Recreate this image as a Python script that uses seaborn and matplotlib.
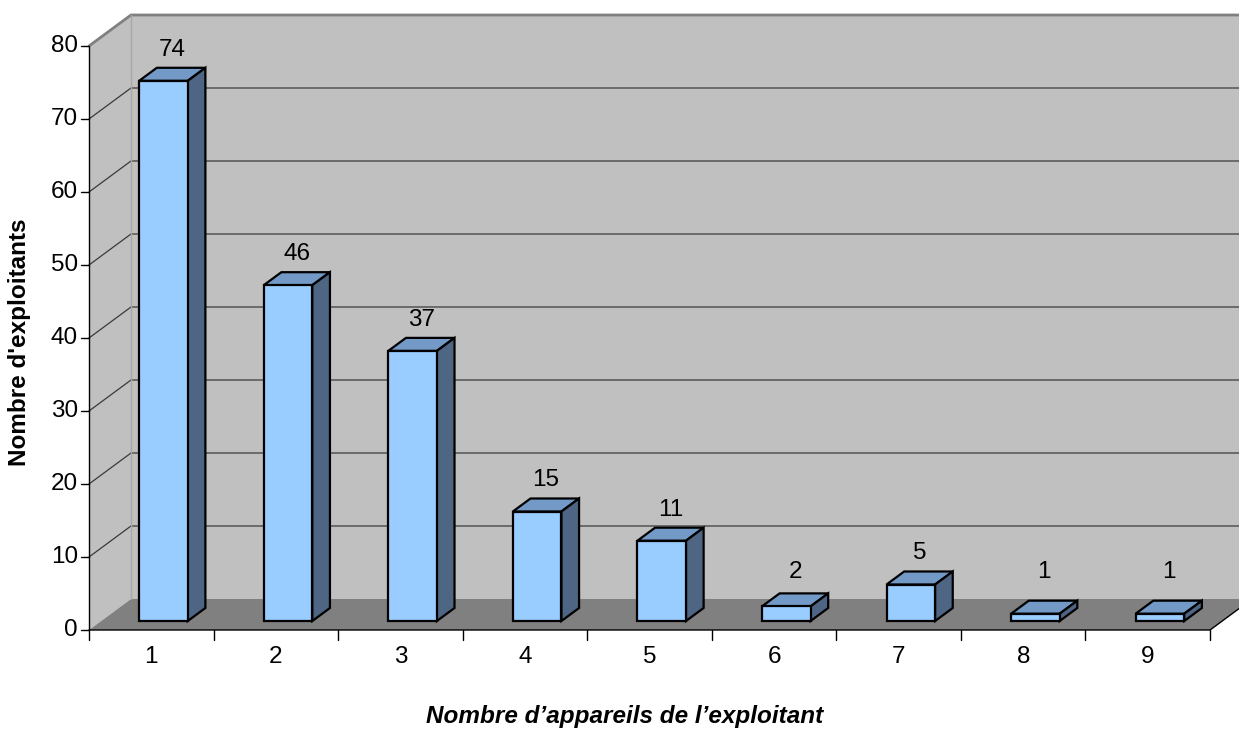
import matplotlib
matplotlib.use("Agg")
import matplotlib.pyplot as plt
import seaborn as sns
import pandas as pd
from matplotlib.patches import Polygon

# Data
categories = ["1", "2", "3", "4", "5", "6", "7", "8", "9"]
counts = [74, 46, 37, 15, 11, 2, 5, 1, 1]
y_ticks = [0, 10, 20, 30, 40, 50, 60, 70, 80]
x_title = "Nombre d\u2019appareils de l\u2019exploitant"
y_title = "Nombre d'exploitants"

sns.set_theme(style="white")
plt.rcParams["font.family"] = ["Liberation Sans", "DejaVu Sans"]
plt.rcParams["text.color"] = "black"

FS = 17.5

W, H = 1239, 729
fig = plt.figure(figsize=(W / 100, H / 100), dpi=100)
ax = fig.add_axes([0, 0, 1, 1])

# Oblique projection: full depth of the box, expressed in data units
PX_X = 124.56          # pixels per category
PX_Y = 7.3             # pixels per unit of count
DX = 42 / PX_X
DY = 31 / PX_Y
D0, D1 = 0.29, 0.71    # bars occupy this slice of the depth
YMAX = 80
n = len(categories)
x_lo, x_hi = -0.5, n - 0.5

wall = "#C0C0C0"
floor = "#808080"
edge = "#808080"

# Walls and floor
ax.add_patch(Polygon([(x_lo, 0), (x_lo + DX, DY), (x_lo + DX, YMAX + DY), (x_lo, YMAX)],
                     closed=True, facecolor=wall, edgecolor="none", zorder=0))
ax.add_patch(Polygon([(x_lo + DX, DY), (x_hi + DX, DY), (x_hi + DX, YMAX + DY), (x_lo + DX, YMAX + DY)],
                     closed=True, facecolor=wall, edgecolor="none", zorder=0))
ax.add_patch(Polygon([(x_lo, 0), (x_hi, 0), (x_hi + DX, DY), (x_lo + DX, DY)],
                     closed=True, facecolor=floor, edgecolor="none", zorder=1))

# Gridlines on the side and back walls
for t in y_ticks[1:-1]:
    ax.plot([x_lo, x_lo + DX, x_hi + DX], [t, t + DY, t + DY], color="#3a3a3a", lw=0.9, zorder=1)
# Wall edges
ax.plot([x_lo, x_lo + DX, x_hi + DX], [YMAX, YMAX + DY, YMAX + DY], color=edge, lw=2, zorder=1)
ax.plot([x_lo + DX, x_lo + DX], [DY, YMAX + DY], color="#a8a8a8", lw=1, zorder=1)

# Axes lines
ax.plot([x_lo, x_lo], [0, YMAX], color="black", lw=1, zorder=2)
ax.plot([x_lo, x_hi, x_hi + DX], [0, 0, DY], color="black", lw=1, zorder=2)

# Front faces of the bars
df = pd.DataFrame({"cat": categories, "n": counts})
sns.barplot(data=df, x="cat", y="n", color="#99CCFF", saturation=1, width=0.39,
            edgecolor="black", linewidth=1.6, ax=ax, errorbar=None)

top_c = "#7399C6"
side_c = "#4F6584"
dd = D1 - D0
for p, v in zip(ax.patches[-n:], counts):
    p.set_x(p.get_x() + D0 * DX)
    p.set_y(D0 * DY)
    p.set_zorder(6)
    x0 = p.get_x()
    x1 = x0 + p.get_width()
    yb = p.get_y()
    yt = yb + p.get_height()
    ax.add_patch(Polygon([(x0, yt), (x1, yt), (x1 + dd * DX, yt + dd * DY), (x0 + dd * DX, yt + dd * DY)],
                         closed=True, facecolor=top_c, edgecolor="black", lw=1.6, zorder=5))
    ax.add_patch(Polygon([(x1, yb), (x1 + dd * DX, yb + dd * DY), (x1 + dd * DX, yt + dd * DY), (x1, yt)],
                         closed=True, facecolor=side_c, edgecolor="black", lw=1.6, zorder=5))

# Value labels
for i, v in enumerate(counts):
    xc = i + 0.5 * DX
    ax.text(xc, max(v + 5.5, 8.0), str(v), ha="center", va="center", fontsize=FS, color="black", zorder=10)

# Y ticks on the front-left edge
tick_len = 8 / PX_X
for t in y_ticks:
    ax.plot([x_lo - tick_len, x_lo], [t, t], color="black", lw=1, zorder=2)
    ax.text(x_lo - 11 / PX_X, t, str(t), ha="right", va="center", fontsize=FS, color="black")

# X ticks at category boundaries and labels
for k in range(n + 1):
    xb = x_lo + k
    ax.plot([xb, xb], [0, -10 / PX_Y], color="black", lw=1, zorder=2)
for i, c in enumerate(categories):
    ax.text(i, -27 / PX_Y, c, ha="center", va="center", fontsize=FS, color="black")

fig.text(625 / W, 1 - 717 / H, x_title, ha="center", va="center", fontsize=FS,
         fontweight="bold", fontstyle="italic", color="black")
fig.text(20 / W, 1 - 342 / H, y_title, ha="center", va="center", fontsize=FS,
         fontweight="bold", rotation=90, color="black")

ax.set_xlim(x_lo - 89 / PX_X, x_lo + (W - 89) / PX_X)
ax.set_ylim(-(H - 630) / PX_Y, 630 / PX_Y)
ax.axis("off")

fig.savefig("out.png", dpi=100)
